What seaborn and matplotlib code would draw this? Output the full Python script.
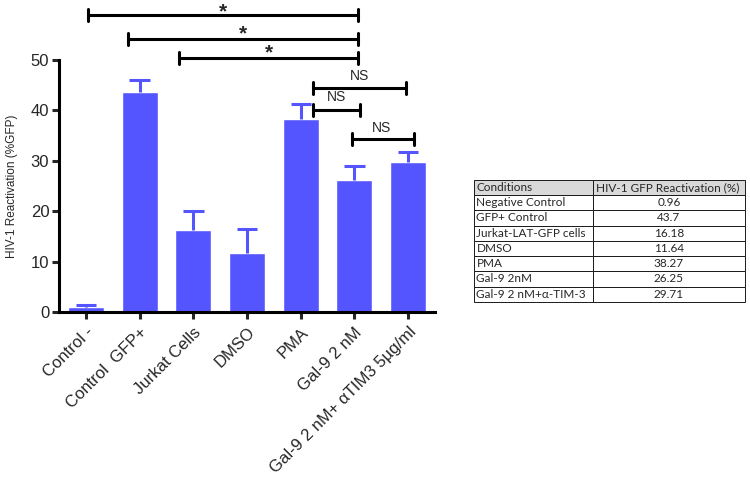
import pandas as pd
import matplotlib.pyplot as plt
import seaborn as sns

sns.set_theme(style='white')
plt.rcParams['font.family'] = ['Liberation Sans', 'DejaVu Sans']

conditions = ['Control -', 'Control  GFP+', 'Jurkat Cells', 'DMSO', 'PMA',
              'Gal-9 2 nM', 'Gal-9 2 nM+ \u03b1TIM3 5\u00b5g/ml']
reactivation = [0.96, 43.7, 16.18, 11.64, 38.27, 26.25, 29.71]
upper_err = [0.35, 2.3, 3.8, 4.8, 2.9, 2.7, 2.0]

table_conditions = ['Negative Control', 'GFP+ Control', 'Jurkat-LAT-GFP cells', 'DMSO',
                    'PMA', 'Gal-9 2nM', 'Gal-9 2 nM+\u03b1-TIM-3']
table_values = ['0.96', '43.7', '16.18', '11.64', '38.27', '26.25', '29.71']

# (x start, x end, y, label x, label y)
sig_star = [(0.04, 5.07, 58.9, 2.55, 59.6),
            (0.78, 5.07, 54.2, 2.92, 55.2),
            (1.73, 5.07, 50.4, 3.41, 51.4)]
sig_ns = [(4.23, 5.96, 44.4, 5.10, 46.8),
          (4.23, 5.10, 40.1, 4.67, 42.7),
          (4.95, 6.10, 34.3, 5.51, 36.5)]

blue = '#5555ff'
df = pd.DataFrame({'condition': conditions, 'value': reactivation})

fig = plt.figure(figsize=(7.5, 4.83), dpi=100)
ax = fig.add_axes([0.0787, 0.354, 0.5013, 0.522])
sns.barplot(data=df, x='condition', y='value', color=blue, saturation=1,
            width=0.67, errorbar=None, ax=ax)

# upper-only error bars
xs = list(range(len(conditions)))
tops = [v + e for v, e in zip(reactivation, upper_err)]
ax.vlines(xs, reactivation, tops, color=blue, lw=2.2)
ax.hlines(tops, [x - 0.19 for x in xs], [x + 0.19 for x in xs], color=blue, lw=2.2)

ax.set_ylim(0, 50)
ax.set_xlim(-0.5, 6.5)
ax.set_yticks([0, 10, 20, 30, 40, 50])
ax.set_ylabel('HIV-1 Reactivation (%GFP)', fontsize=8.5)
ax.yaxis.set_label_coords(-0.108, 0.5)
ax.set_xlabel('')
ax.set_xticks(xs)
ax.set_xticklabels(conditions, rotation=45, ha='right', rotation_mode='anchor', fontsize=12)
ax.tick_params(axis='y', labelsize=12, length=5, width=2.2, direction='out', left=True, pad=2)
ax.tick_params(axis='x', length=5, width=2.2, direction='out', bottom=True, pad=4)
for s in ['top', 'right']:
    ax.spines[s].set_visible(False)
for s in ['left', 'bottom']:
    ax.spines[s].set_linewidth(2.2)
    ax.spines[s].set_color('black')

cap = 1.2
for group, label, size, weight in [(sig_star, '*', 15, 'bold'), (sig_ns, 'NS', 10, 'normal')]:
    for x0, x1, y, lx, ly in group:
        ax.plot([x0, x1], [y, y], color='black', lw=2.2, clip_on=False)
        ax.plot([x0, x0], [y - cap, y + cap], color='black', lw=2.2, clip_on=False)
        ax.plot([x1, x1], [y - cap, y + cap], color='black', lw=2.2, clip_on=False)
        ax.text(lx, ly, label, ha='center', va='center', fontsize=size,
                fontweight=weight, clip_on=False)

tax = fig.add_axes([0.632, 0.375, 0.361, 0.253])
tax.axis('off')
cells = [[c, v] for c, v in zip(table_conditions, table_values)]
tbl = tax.table(cellText=cells, colLabels=['Conditions', 'HIV-1 GFP Reactivation (%)'],
                colWidths=[0.44, 0.56], bbox=[0, 0, 1, 1])
tbl.auto_set_font_size(False)
for (r, c), cell in tbl.get_celld().items():
    cell.set_linewidth(0.7)
    cell.get_text().set_fontsize(8.5)
    cell.get_text().set_fontfamily(['Lato', 'DejaVu Sans'])
    if c == 0 or r == 0:
        cell.get_text().set_ha('left')
        cell.PAD = 0.02
    if c == 1 and r > 0:
        cell.get_text().set_ha('center')
    if r == 0:
        cell.set_facecolor('#d9d9d9')

plt.savefig('out.png', dpi=100)
